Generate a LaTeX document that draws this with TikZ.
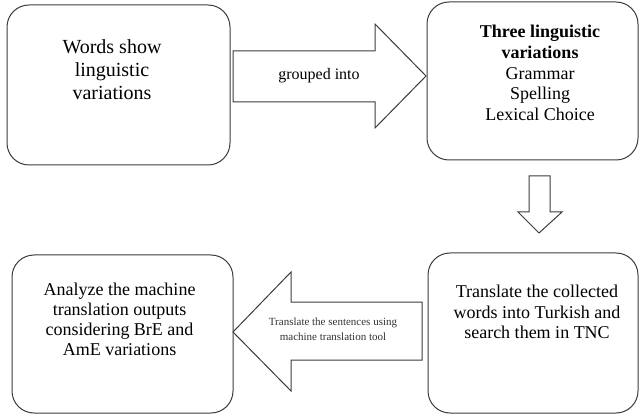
\documentclass[tikz,border=0pt]{standalone}
\usepackage{fontspec}
\setmainfont{Liberation Serif}
\definecolor{linec}{HTML}{3C3C3C}
\begin{document}
\begin{tikzpicture}[x=1pt,y=-1pt,
  box/.style={draw=linec, line width=1pt, rounded corners=22pt, inner sep=0pt},
  blockarrow/.style={draw=linec, line width=1pt, fill=white, line join=miter},
  txt/.style={align=center, inner sep=0pt, text=black}]
\useasboundingbox (0,0) rectangle (640,414);
% boxes
\node[box, minimum width=223pt, minimum height=160pt] (words) at (118.5,85) {};
\node[box, minimum width=211pt, minimum height=158pt] (three) at (532.5,81) {};
\node[box, minimum width=210pt, minimum height=160pt] (translate) at (533,333) {};
\node[box, minimum width=221pt, minimum height=158pt] (analyze) at (122.5,334) {};
% box texts
\node[txt, font=\fontsize{20}{23}\selectfont, anchor=north] (wordstxt) at (112,39) {Words show\\linguistic\\variations};
\node[txt, font=\fontsize{18}{20.7}\selectfont, anchor=north] (threetxt) at (540,25) {\textbf{Three linguistic}\\\textbf{variations}\\Grammar\\Spelling\\Lexical Choice};
\node[txt, font=\fontsize{18}{20.5}\selectfont, anchor=north] (translatetxt) at (537,285) {Translate the collected\\words into Turkish and\\search them in TNC};
\node[txt, font=\fontsize{18}{20}\selectfont, anchor=north] (analyzetxt) at (119.5,283) {Analyze the machine\\translation outputs\\considering BrE and\\AmE variations};
% block arrows
\draw[blockarrow] (233,51) -- (375,51) -- (375,24) -- (426,76) -- (375,128) -- (375,102) -- (233,102) -- cycle;
\node[txt, font=\fontsize{16}{19}\selectfont, anchor=base] (grouped) at (319,80) {grouped into};
\draw[blockarrow] (529,176) -- (550,176) -- (550,212) -- (562,212) -- (539,233) -- (518,212) -- (529,212) -- cycle;
\draw[blockarrow] (422,302) -- (291,302) -- (291,272) -- (233,332) -- (291,391) -- (291,360) -- (422,360) -- cycle;
\node[txt, font=\fontsize{11}{15}\selectfont, anchor=north, text=black!80] (mt) at (333,318) {Translate the sentences using\\machine translation tool};
\end{tikzpicture}
\end{document}
